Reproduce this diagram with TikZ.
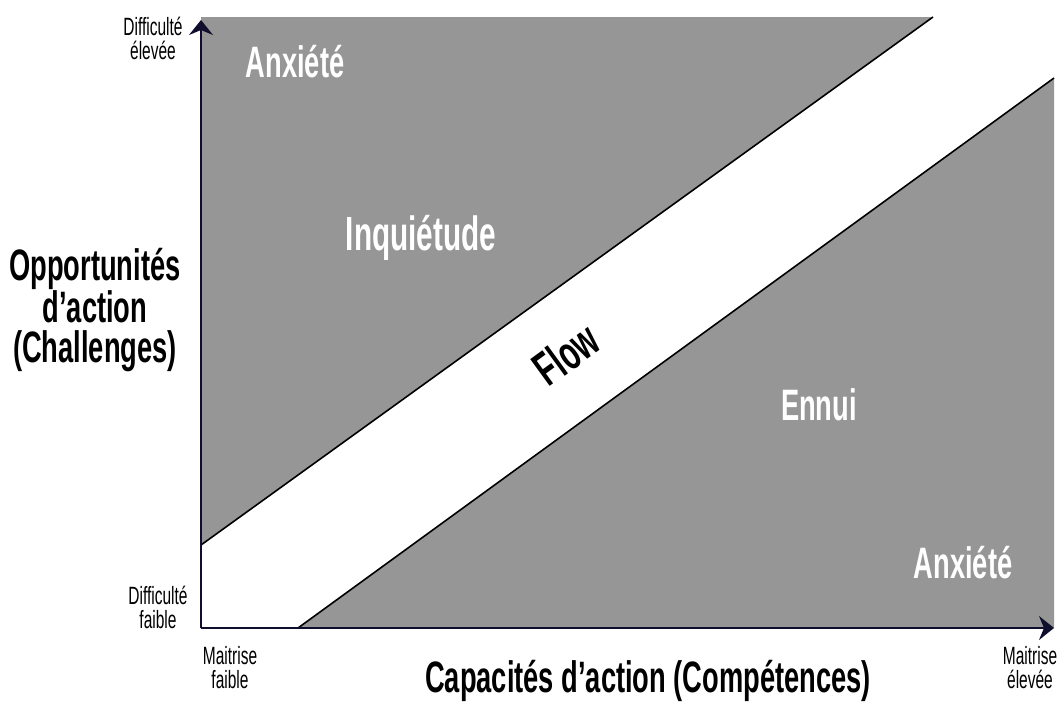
\documentclass[tikz,border=0pt]{standalone}
\usepackage{fontspec}
\usepackage{xcolor}
\usetikzlibrary{arrows.meta}
\newfontfamily\zonefont{Liberation Sans}[FakeStretch=0.62]
\definecolor{ZoneGray}{RGB}{150,150,150}
\definecolor{AxisInk}{RGB}{15,15,45}

\begin{document}
\begin{tikzpicture}[x=1pt, y=-1pt, every node/.style={font=\zonefont}]
  \tikzstyle{zone}=[fill=ZoneGray, draw=none]
  \tikzstyle{edge}=[line width=1.6pt, draw=black]
  \tikzstyle{axis}=[line width=1.6pt, draw=AxisInk,
                    -{Stealth[length=15pt, width=24pt, inset=5pt]}]
  \tikzstyle{zonelabel}=[text=white, anchor=base,
                         font=\zonefont\bfseries\fontsize{44}{48}\selectfont]
  \tikzstyle{axislabel}=[align=center,
                         font=\zonefont\bfseries\fontsize{44}{40}\selectfont]
  \tikzstyle{endlabel}=[align=center,
                        font=\zonefont\fontsize{25}{24}\selectfont]
  \useasboundingbox (0,0) rectangle (1062,702);
  \coordinate (origin)  at (201,628);
  \coordinate (ytop)    at (201,20);
  \coordinate (xend)    at (1054,628);
  \coordinate (bandtop) at (933,17);
  \coordinate (bandleft) at (201,545);
  \coordinate (bandlow) at (298,628);
  \coordinate (bandright) at (1054,78);
  % zones
  \fill[zone] (201,17) -- (bandtop) -- (bandleft) -- cycle;
  \fill[zone] (bandlow) -- (bandright) -- (1054,628) -- cycle;
  \draw[edge] (bandtop) -- (bandleft);
  \draw[edge] (bandlow) -- (bandright);
  % axes
  \draw[axis] (origin) -- (ytop);
  \draw[axis] (origin) -- (xend);
  % zone names
  \node[zonelabel] (anxtop)  at (295,77)  {Anxiété};
  \node[zonelabel, font=\zonefont\bfseries\fontsize{48}{52}\selectfont]
       (inquiet) at (421,250) {Inquiétude};
  \node[zonelabel] (ennui)   at (819,420) {Ennui};
  \node[zonelabel] (anxbot)  at (963,578) {Anxiété};
  \node[zonelabel, text=black, anchor=center, rotate=36,
        font=\zonefont\bfseries\fontsize{48}{52}\selectfont]
       (flow) at (566,354) {Flow};
  % axis titles
  \node[axislabel] (ytitle) at (95,310) {Opportunités\\d’action\\(Challenges)};
  \node[axislabel, anchor=base] (xtitle) at (648,692)
       {Capacités d’action (Compétences)};
  \node[endlabel] (yhigh) at (153,38)   {Difficulté\\élevée};
  \node[endlabel] (ylow)  at (158,607)  {Difficulté\\faible};
  \node[endlabel] (xlow)  at (230,668)  {Maitrise\\faible};
  \node[endlabel] (xhigh) at (1030,668) {Maitrise\\élevée};
\end{tikzpicture}
\end{document}
